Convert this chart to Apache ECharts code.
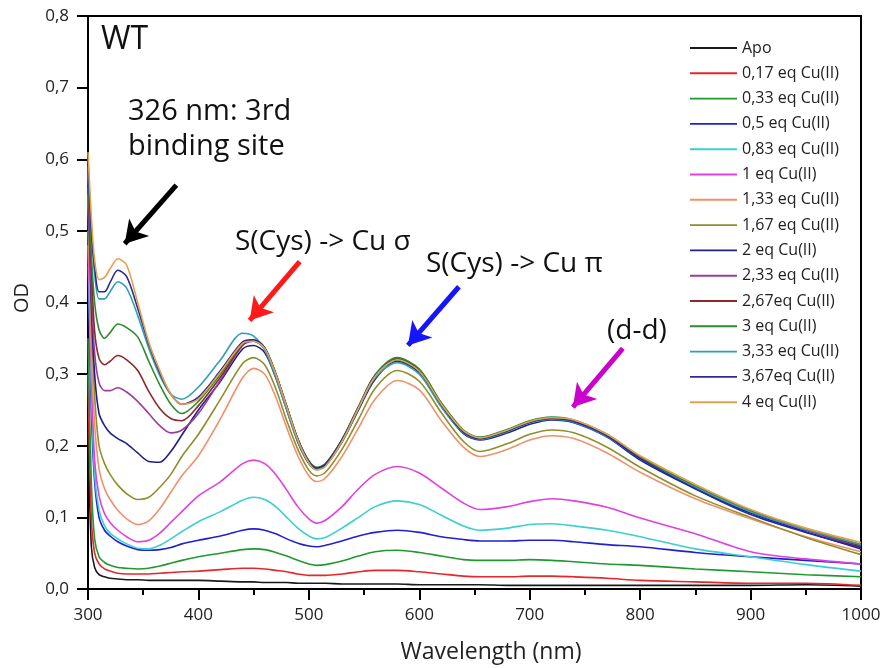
<!DOCTYPE html>
<html>
<head>
<meta charset="utf-8">
<script src="https://cdn.jsdelivr.net/npm/echarts@6/dist/echarts.min.js"></script>
<style>html,body{margin:0;padding:0;background:#fff}#c{width:884px;height:668px}</style>
</head>
<body>
<div id="c"></div>
<script>
const wavelengths = [300,303,306,310,315,320,327,335,345,355,365,375,385,400,420,440,450,460,470,480,490,500,507,515,530,545,560,580,600,620,640,655,680,700,720,740,770,800,850,900,950,1000];

const apo    = [0.22,0.06,0.03,0.02,0.017,0.015,0.014,0.013,0.013,0.012,0.012,0.012,0.012,0.012,0.011,0.010,0.010,0.009,0.009,0.009,0.008,0.008,0.008,0.008,0.007,0.007,0.007,0.007,0.006,0.006,0.006,0.006,0.005,0.005,0.005,0.005,0.005,0.005,0.005,0.005,0.006,0.004];
const eq017  = [0.30,0.10,0.05,0.035,0.028,0.025,0.022,0.021,0.021,0.021,0.022,0.023,0.024,0.025,0.027,0.029,0.029,0.028,0.026,0.024,0.021,0.019,0.019,0.019,0.021,0.024,0.026,0.026,0.024,0.021,0.018,0.017,0.017,0.018,0.018,0.017,0.015,0.012,0.010,0.008,0.008,0.005];
const eq033  = [0.35,0.15,0.07,0.045,0.037,0.033,0.030,0.029,0.028,0.029,0.032,0.036,0.040,0.045,0.050,0.055,0.056,0.055,0.051,0.046,0.040,0.035,0.033,0.034,0.039,0.046,0.052,0.054,0.051,0.046,0.041,0.040,0.040,0.041,0.040,0.038,0.035,0.033,0.028,0.024,0.020,0.017];
const eq05   = [0.45,0.25,0.15,0.10,0.082,0.074,0.066,0.060,0.055,0.054,0.055,0.058,0.063,0.068,0.074,0.082,0.084,0.082,0.077,0.070,0.064,0.060,0.059,0.061,0.067,0.074,0.079,0.082,0.079,0.073,0.069,0.067,0.067,0.068,0.068,0.066,0.062,0.059,0.051,0.045,0.040,0.035];
const eq083  = [0.48,0.28,0.16,0.11,0.088,0.078,0.070,0.063,0.057,0.056,0.061,0.070,0.080,0.094,0.108,0.124,0.128,0.125,0.115,0.100,0.085,0.074,0.070,0.072,0.085,0.100,0.115,0.123,0.118,0.103,0.088,0.082,0.085,0.090,0.091,0.088,0.082,0.073,0.056,0.045,0.034,0.025];
const eq1    = [0.50,0.30,0.18,0.13,0.105,0.093,0.082,0.073,0.066,0.068,0.078,0.093,0.108,0.130,0.150,0.175,0.180,0.175,0.160,0.138,0.115,0.098,0.092,0.096,0.115,0.140,0.160,0.171,0.162,0.141,0.120,0.111,0.115,0.122,0.126,0.123,0.114,0.099,0.077,0.052,0.042,0.035];
const eq133  = [0.55,0.33,0.23,0.168,0.140,0.125,0.110,0.098,0.090,0.095,0.112,0.135,0.158,0.186,0.238,0.295,0.308,0.300,0.268,0.225,0.186,0.158,0.150,0.155,0.185,0.225,0.265,0.291,0.278,0.235,0.198,0.185,0.195,0.208,0.214,0.210,0.190,0.163,0.126,0.098,0.073,0.052];
const eq167  = [0.56,0.38,0.27,0.20,0.175,0.160,0.145,0.133,0.125,0.128,0.142,0.160,0.185,0.216,0.265,0.315,0.323,0.313,0.280,0.235,0.195,0.166,0.158,0.163,0.195,0.237,0.280,0.305,0.290,0.246,0.206,0.192,0.203,0.216,0.222,0.218,0.198,0.170,0.130,0.100,0.072,0.048];
const eq2    = [0.58,0.40,0.30,0.245,0.228,0.218,0.210,0.203,0.190,0.178,0.177,0.192,0.215,0.250,0.290,0.335,0.340,0.330,0.295,0.250,0.205,0.175,0.167,0.172,0.205,0.250,0.293,0.318,0.302,0.255,0.217,0.208,0.218,0.230,0.236,0.232,0.212,0.180,0.140,0.106,0.080,0.056];
const eq233  = [0.58,0.42,0.33,0.288,0.277,0.277,0.281,0.275,0.262,0.245,0.228,0.218,0.222,0.245,0.292,0.340,0.346,0.335,0.300,0.253,0.208,0.177,0.168,0.173,0.207,0.253,0.297,0.321,0.305,0.258,0.220,0.210,0.221,0.233,0.238,0.234,0.214,0.183,0.142,0.108,0.082,0.058];
const eq267  = [0.58,0.45,0.36,0.322,0.313,0.318,0.326,0.320,0.305,0.276,0.252,0.238,0.235,0.256,0.296,0.341,0.347,0.336,0.300,0.254,0.209,0.178,0.169,0.174,0.208,0.254,0.298,0.322,0.306,0.259,0.221,0.211,0.222,0.234,0.239,0.235,0.215,0.184,0.143,0.109,0.083,0.060];
const eq3    = [0.59,0.47,0.40,0.362,0.350,0.358,0.370,0.365,0.352,0.318,0.285,0.258,0.245,0.262,0.300,0.343,0.348,0.337,0.301,0.255,0.210,0.179,0.170,0.175,0.209,0.255,0.299,0.323,0.307,0.260,0.222,0.212,0.223,0.235,0.240,0.236,0.216,0.185,0.144,0.110,0.084,0.062];
const eq333  = [0.59,0.50,0.44,0.405,0.405,0.415,0.429,0.420,0.382,0.336,0.298,0.272,0.265,0.282,0.320,0.357,0.353,0.334,0.296,0.250,0.206,0.176,0.167,0.172,0.206,0.252,0.295,0.316,0.300,0.254,0.218,0.209,0.220,0.232,0.237,0.233,0.213,0.182,0.142,0.108,0.083,0.062];
const eq367  = [0.60,0.50,0.45,0.415,0.415,0.428,0.445,0.436,0.392,0.342,0.302,0.272,0.258,0.268,0.305,0.345,0.348,0.337,0.301,0.255,0.209,0.178,0.169,0.174,0.208,0.254,0.298,0.320,0.304,0.257,0.219,0.210,0.221,0.233,0.238,0.234,0.214,0.182,0.140,0.104,0.079,0.058];
const eq4    = [0.61,0.52,0.46,0.432,0.435,0.447,0.461,0.452,0.400,0.345,0.305,0.272,0.258,0.265,0.303,0.343,0.346,0.336,0.300,0.254,0.208,0.176,0.166,0.171,0.206,0.253,0.297,0.320,0.304,0.258,0.221,0.211,0.222,0.234,0.239,0.236,0.216,0.186,0.146,0.111,0.085,0.065];

const seriesNames = ['Apo','0,17 eq Cu(II)','0,33 eq Cu(II)','0,5 eq Cu(II)','0,83 eq Cu(II)','1 eq Cu(II)','1,33 eq Cu(II)','1,67 eq Cu(II)','2 eq Cu(II)','2,33 eq Cu(II)','2,67eq Cu(II)','3 eq Cu(II)','3,33 eq Cu(II)','3,67eq Cu(II)','4 eq Cu(II)'];
const seriesValues = [apo,eq017,eq033,eq05,eq083,eq1,eq133,eq167,eq2,eq233,eq267,eq3,eq333,eq367,eq4];
const seriesColors = ['#1a1a1a','#e8262a','#1e9a2e','#2020d0','#3ccfcf','#e040e0','#f0906a','#8e8e2a','#202088','#9a3ca0','#8c2a2a','#2e8a2e','#30a0b0','#2a2a98','#e8a048'];

// annotation arrows: [start wavelength, start OD] -> [tip wavelength, tip OD]
const arrowStart = [[380,0.564],[491.7,0.457],[635.9,0.422],[784.3,0.336]];
const arrowTip   = [[333.2,0.482],[446.4,0.375],[589.7,0.340],[739.1,0.254]];
const arrowColors = ['#000000','#ff1a1a','#1414ff','#cc00cc'];

const xTicks = {min:300, max:1000, interval:100};
const yTicks = {min:0, max:0.8, interval:0.1};

const FONT = 'Open Sans';
const chart = echarts.init(document.getElementById('c'), null, {renderer:'canvas'});

const series = seriesNames.map((n,i)=>({
  name:n, type:'line', symbol:'none', showSymbol:false, smooth:0.3,
  data: wavelengths.map((w,k)=>[w, seriesValues[i][k]]),
  lineStyle:{color:seriesColors[i], width:1.6},
  itemStyle:{color:seriesColors[i]},
  emphasis:{disabled:true}, z:2+i
}));
series.push({
  name:'arrows', type:'line', data:[], symbol:'none', z:20,
  markLine:{
    silent:true, symbol:['none','arrow'], symbolSize:[20,22], animation:false,
    label:{show:false},
    data: arrowStart.map((s,i)=>[
      {coord:s, lineStyle:{color:arrowColors[i], width:5, type:'solid'}},
      {coord:arrowTip[i]}
    ])
  }
});

chart.setOption({
  animation:false,
  backgroundColor:'#fff',
  grid:{left:88, right:23, top:16, bottom:79, show:true, borderColor:'#000', borderWidth:2, backgroundColor:'transparent'},
  xAxis:{
    type:'value', min:xTicks.min, max:xTicks.max, interval:xTicks.interval,
    axisLine:{show:true, onZero:false, lineStyle:{color:'#000', width:2}},
    axisTick:{show:true, inside:false, length:11, lineStyle:{color:'#000', width:2}},
    minorTick:{show:true, splitNumber:2, length:6, lineStyle:{color:'#000', width:2}},
    splitLine:{show:false},
    axisLabel:{margin:18, color:'#222', fontFamily:FONT, fontSize:17, formatter:v=>String(v)}
  },
  yAxis:{
    type:'value', min:yTicks.min, max:yTicks.max, interval:yTicks.interval,
    axisLine:{show:true, onZero:false, lineStyle:{color:'#000', width:2}},
    axisTick:{show:true, inside:false, length:11, lineStyle:{color:'#000', width:2}},
    splitLine:{show:false},
    axisLabel:{margin:19, color:'#222', fontFamily:FONT, fontSize:17,
      formatter:v=>v.toFixed(1).replace('.',',')}
  },
  legend:{
    orient:'vertical', left:685, top:35, itemWidth:47, itemHeight:14, itemGap:9.3,
    icon:'path://M0,0 L100,0 L100,4 L0,4 Z',
    data:seriesNames, selectedMode:false,
    textStyle:{fontFamily:FONT, fontSize:16, color:'#222'}
  },
  graphic:[
    {type:'text', left:101, top:24, style:{text:'WT', font:'32px "Open Sans"', fill:'#111'}},
    {type:'text', x:128, y:112, style:{text:'326 nm: 3rd', font:'29px "Open Sans"', fill:'#111', verticalAlign:'middle'}},
    {type:'text', x:128, y:147, style:{text:'binding site', font:'29px "Open Sans"', fill:'#111', verticalAlign:'middle'}},
    {type:'text', x:235, y:242, style:{text:'S(Cys) -> Cu σ', font:'28px "Open Sans"', fill:'#111', verticalAlign:'middle'}},
    {type:'text', x:426, y:264, style:{text:'S(Cys) -> Cu π', font:'28px "Open Sans"', fill:'#111', verticalAlign:'middle'}},
    {type:'text', x:607, y:331, style:{text:'(d-d)', font:'28px "Open Sans"', fill:'#111', verticalAlign:'middle'}},
    {type:'text', x:22, y:298, rotation:Math.PI/2, style:{text:'OD', font:'20px "Open Sans"', fill:'#222', align:'center', verticalAlign:'middle'}},
    {type:'text', x:491, y:652, style:{text:'Wavelength (nm)', font:'23px "Open Sans"', fill:'#222', align:'center', verticalAlign:'middle'}}
  ],
  series:series
});
</script>
</body>
</html>
